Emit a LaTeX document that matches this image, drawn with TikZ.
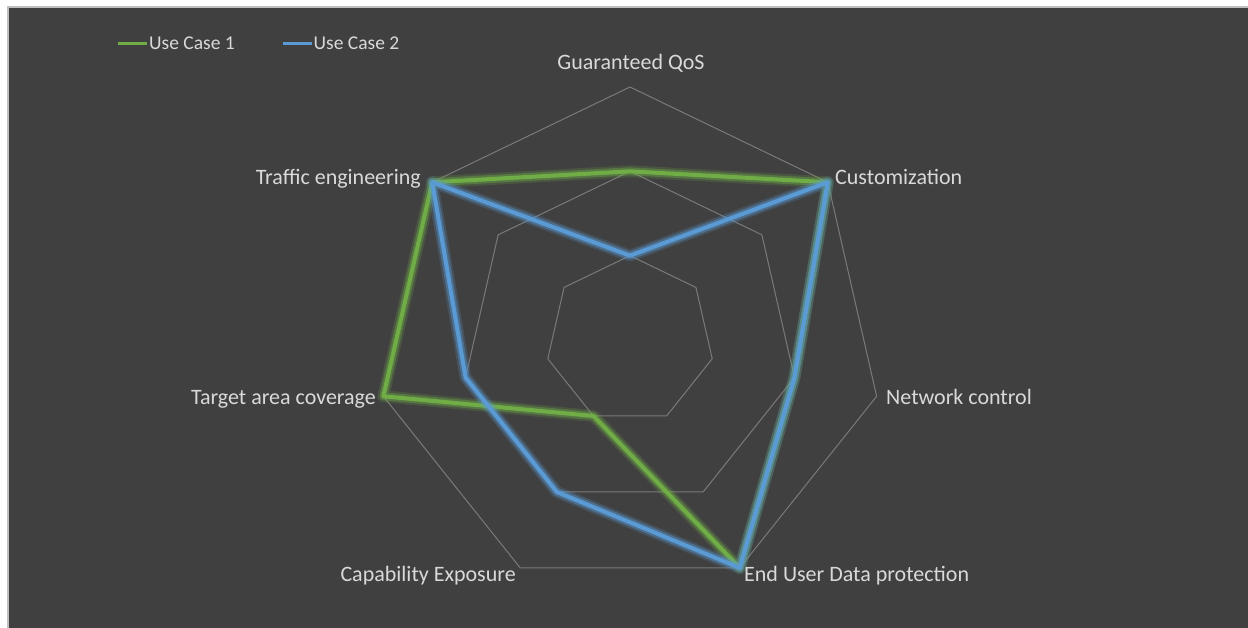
\documentclass[tikz,border=0pt]{standalone}
\usepackage{fontspec}
\setmainfont{Carlito}
\usetikzlibrary{calc}
\definecolor{bgdark}{HTML}{404040}
\definecolor{gridc}{HTML}{7A7A7A}
\definecolor{txt}{HTML}{D9D9D9}
\definecolor{ucgreen}{HTML}{70AD47}
\definecolor{ucblue}{HTML}{5B9BD5}
\tikzset{
  gridline/.style={draw=gridc, line width=1pt},
  axislabel/.style={text=txt, inner sep=0pt, font=\fontsize{22pt}{24pt}\selectfont},
  legendlabel/.style={text=txt, inner sep=0pt, font=\fontsize{19.5pt}{22pt}\selectfont, anchor=base west},
  glowA/.style={line width=12pt, draw opacity=0.2, line join=round},
  glowB/.style={line width=8pt, draw opacity=0.4, line join=round},
  core/.style={line width=4pt, line join=round},
}
\begin{document}
\begin{tikzpicture}[x=1pt,y=1pt]
\useasboundingbox (0,0) rectangle (1248,628);
\fill[white] (0,0) rectangle (1248,628);
\fill[black!25] (6.5,0) rectangle (1248,621.5);
\fill[bgdark] (8.5,0) rectangle (1248,619.5);
\coordinate (c) at (630,288);
% grid rings
\foreach \r in {1,2,3}{
  \draw[gridline] ([shift={(90:\r*84.33)}]c)
    \foreach \k in {1,...,6}{ -- ([shift={(90-\k*360/7:\r*84.33)}]c)} -- cycle;
}
% axis vertex coordinates
\foreach \k in {0,...,6}{
  \coordinate (v\k) at ([shift={(90-\k*360/7:253)}]c);
}
% data points
\def\unit{84.33}
\foreach \k/\val in {0/2,1/3,2/2,3/3,4/1,5/3,6/3}{
  \coordinate (g\k) at ([shift={(90-\k*360/7:\val*\unit)}]c);
}
\foreach \k/\val in {0/1,1/3,2/2,3/3,4/2,5/2,6/3}{
  \coordinate (b\k) at ([shift={(90-\k*360/7:\val*\unit)}]c);
}
% use case 1
\foreach \st in {glowA,glowB,core}{
  \draw[ucgreen,\st] (g0) -- (g1) -- (g2) -- (g3) -- (g4) -- (g5) -- (g6) -- cycle;
}
% use case 2
\foreach \st in {glowA,glowB,core}{
  \draw[ucblue,\st] (b0) -- (b1) -- (b2) -- (b3) -- (b4) -- (b5) -- (b6) -- cycle;
}
% labels
\node[axislabel, anchor=base] (l0) at (631,558) {Guaranteed QoS};
\node[axislabel, anchor=base west] (l1) at (835,443) {Customization};
\node[axislabel, anchor=base west] (l2) at (886,223) {Network control};
\node[axislabel, anchor=base west] (l3) at (744,46) {End User Data protection};
\node[axislabel, anchor=base east] (l4) at (516,46) {Capability Exposure};
\node[axislabel, anchor=base east] (l5) at (376,223) {Target area coverage};
\node[axislabel, anchor=base east] (l6) at (421,443) {Traffic engineering};
% legend
\coordinate (lg1a) at (118,584.5);
\coordinate (lg1b) at (147,584.5);
\coordinate (lg2a) at (283,584.5);
\coordinate (lg2b) at (312,584.5);
\draw[ucgreen, line width=3pt] (lg1a) -- (lg1b);
\draw[ucblue, line width=3pt] (lg2a) -- (lg2b);
\node[legendlabel] (t1) at (149,578) {Use Case 1};
\node[legendlabel] (t2) at (313.5,578) {Use Case 2};
\end{tikzpicture}
\end{document}
